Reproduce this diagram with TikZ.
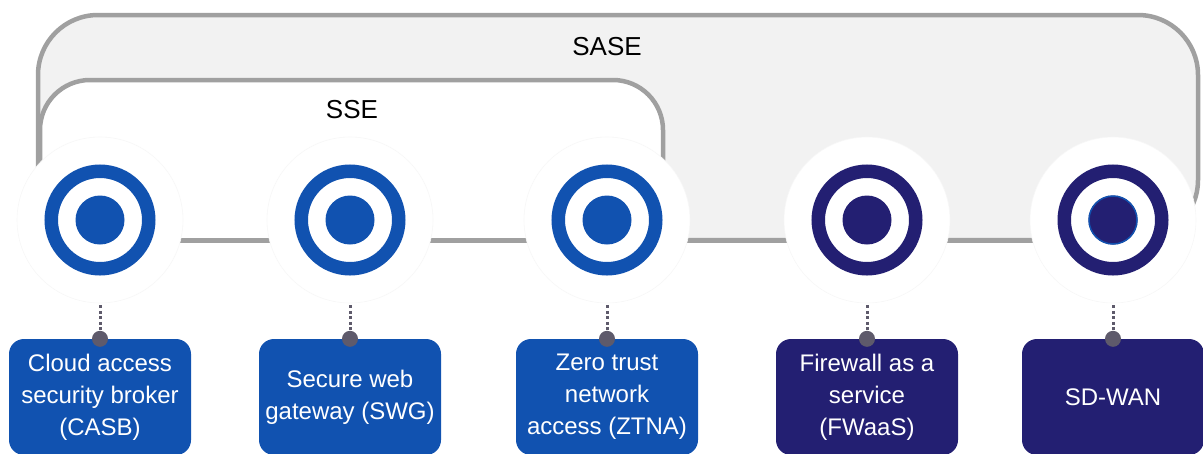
\documentclass[tikz,border=0pt]{standalone}
\usepackage{fontspec}
\setmainfont{Liberation Sans}
\definecolor{sseblue}{HTML}{1152B0}
\definecolor{navy}{HTML}{231F72}
\definecolor{sasefill}{HTML}{F2F2F2}
\definecolor{framegray}{HTML}{A0A0A0}
\definecolor{dotgray}{HTML}{5E5A6B}
\begin{document}
\begin{tikzpicture}[x=1pt,y=-1pt,
  frame/.style={draw=framegray, line width=4.5pt},
  link/.style={draw=framegray, line width=5pt},
  halo/.style={circle, fill=white, draw=black!3, line width=0.6pt, minimum size=166pt, inner sep=0pt},
  ring/.style={line width=13.5pt},
  title/.style={font=\fontsize{26}{30}\selectfont, text=black},
  labelbox/.style={rounded corners=15pt, minimum width=182pt, minimum height=116pt, inner sep=0pt,
    text=white, align=center, font=\fontsize{24}{32}\selectfont},
  dotline/.style={draw=dotgray, line width=3pt, dash pattern=on 3pt off 2.5pt},
  pin/.style={fill=dotgray}]
\useasboundingbox (0,0) rectangle (1203,453);
% SASE frame
\draw[frame, fill=sasefill, rounded corners=60pt] (38,15) rectangle (1198,240);
% SSE frame
\fill[white, rounded corners=50pt] (40,80) rectangle (663,300);
\draw[frame, rounded corners=50pt] (40,240) -- (40,80) -- (663,80) -- (663,240);
\node[title] (sase) at (607,47) {SASE};
\node[title] (sse) at (352,110) {SSE};
% node centres
\coordinate (casb) at (100,220);
\coordinate (swg) at (350,220);
\coordinate (ztna) at (607,220);
\coordinate (fwaas) at (867,220);
\coordinate (sdwan) at (1113,220);
% base line
\draw[link] ([yshift=-20pt]casb) -- ([yshift=-20pt]sdwan);
% halos
\foreach \n in {casb,swg,ztna,fwaas,sdwan}{\node[halo] (\n H) at (\n) {};}
% rings
\foreach \n in {casb,swg,ztna}{
  \draw[ring, draw=sseblue] (\n) circle[radius=48.75pt];
  \fill[sseblue] (\n) circle[radius=24.5pt];}
\foreach \n in {fwaas,sdwan}{
  \draw[ring, draw=navy] (\n) circle[radius=48.75pt];
  \fill[navy] (\n) circle[radius=24.5pt];}
\draw[sseblue, line width=1.5pt] (sdwan) circle[radius=24pt];
% label boxes
\node[labelbox, fill=sseblue] (casbL) at (100,397) {Cloud access\\security broker\\(CASB)};
\node[labelbox, fill=sseblue] (swgL) at (350,397) {Secure web\\gateway (SWG)};
\node[labelbox, fill=sseblue] (ztnaL) at (607,397) {Zero trust\\network\\access (ZTNA)};
\node[labelbox, fill=navy] (fwaasL) at (867,397) {Firewall as a\\service\\(FWaaS)};
\node[labelbox, fill=navy] (sdwanL) at (1113,397) {SD-WAN};
% dotted connectors
\foreach \n in {casb,swg,ztna,fwaas,sdwan}{
  \draw[dotline] ([yshift=-2pt]\n H.south) -- (\n L.north);
  \fill[pin] (\n L.north) circle[radius=8pt];}
\end{tikzpicture}
\end{document}
